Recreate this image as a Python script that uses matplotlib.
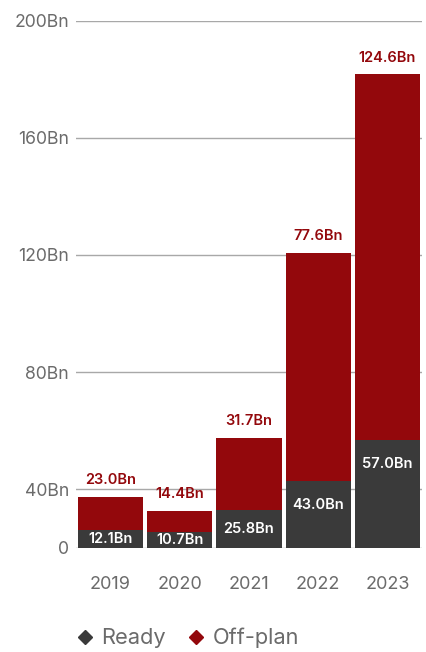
import numpy as np
import matplotlib.pyplot as plt
from matplotlib.lines import Line2D

plt.rcParams['font.family'] = ['Inter', 'DejaVu Sans']

years = ['2019', '2020', '2021', '2022', '2023']
ready = [12.1, 10.7, 25.8, 43.0, 57.0]
offplan = [23.0, 14.4, 31.7, 77.6, 124.6]
yticks = [0, 40, 80, 120, 160, 200]
ytick_labels = ['0', '40Bn', '80Bn', '120Bn', '160Bn', '200Bn']

DARK = '#3a3a3a'
RED = '#93080c'
GREY = '#6b6b6b'


# the 0-40 band is drawn at half height
def fwd(v):
    v = np.asarray(v, dtype=float)
    return np.where(v <= 40, v / 2, v - 20)


def inv(u):
    u = np.asarray(u, dtype=float)
    return np.where(u <= 20, u * 2, u + 20)


fig = plt.figure(figsize=(4.27, 6.52), dpi=100)
ax = fig.add_axes([76 / 427, 1 - 548 / 652, 346 / 427, 527.5 / 652])
ax.set_yscale('function', functions=(fwd, inv))
ax.set_ylim(0, 200)
ax.set_xlim(-0.5, 4.5)

x = np.arange(len(years))
ax.bar(x, ready, width=0.94, color=DARK, zorder=3)
ax.bar(x, offplan, width=0.94, bottom=ready, color=RED, zorder=3)

ax.set_yticks(yticks)
ax.set_yticklabels(ytick_labels)
ax.set_xticks(x)
ax.set_xticklabels(years)
ax.tick_params(axis='both', length=0, colors=GREY)
ax.tick_params(axis='y', labelsize=12.7, pad=5)
ax.tick_params(axis='x', labelsize=13, pad=20)
ax.grid(axis='y', color='#a8a8a8', linewidth=1, zorder=0)
for s in ax.spines.values():
    s.set_visible(False)

# labels: off-plan above each bar, ready inside the dark segment
px2pt = 72 / fig.dpi
for xi, r, o in zip(x, ready, offplan):
    ax.annotate('%.1fBn' % o, (xi, r + o), xytext=(0, 7),
                textcoords='offset points', ha='center', va='bottom',
                color=RED, fontsize=10.5, fontweight='semibold')
    y0 = ax.transData.transform((xi, 0))[1]
    y1 = ax.transData.transform((xi, r))[1]
    drop = min(24, (y1 - y0) / 2)
    ax.annotate('%.1fBn' % r, (xi, r), xytext=(0, -drop * px2pt),
                textcoords='offset points', ha='center', va='center',
                color='white', fontsize=10.5, fontweight='semibold', zorder=4)

handles = [Line2D([], [], marker='D', linestyle='none', color=DARK, markersize=7.5),
           Line2D([], [], marker='D', linestyle='none', color=RED, markersize=7.5)]
leg = fig.legend(handles, ['Ready', 'Off-plan'], loc='center left',
                 bbox_to_anchor=(54 / 427, 1 - 638 / 652), ncol=2, frameon=False,
                 fontsize=15.7, handletextpad=0.25, columnspacing=0.9,
                 handlelength=1.0)
for t in leg.get_texts():
    t.set_color(GREY)

fig.savefig('out.png', dpi=100)
